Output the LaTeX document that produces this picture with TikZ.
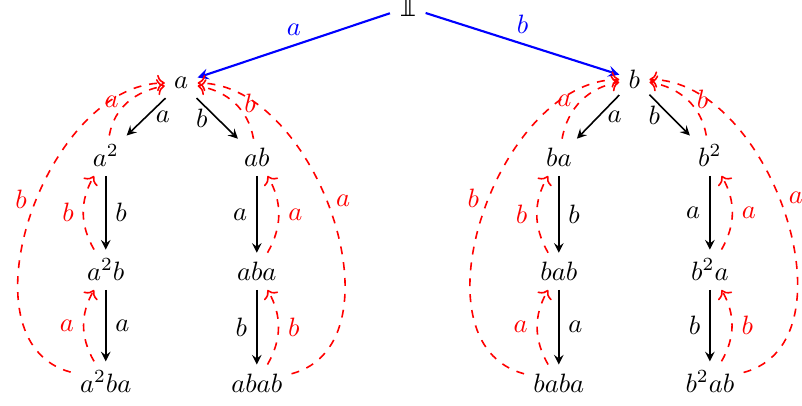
\documentclass[tikz,border=0pt]{standalone}
\usepackage{amsmath}
\usepackage{fontspec}
\newfontfamily\dejavu{DejaVu Sans}
\usetikzlibrary{arrows.meta, positioning}

\begin{document}
\begin{tikzpicture}[
    word/.style={anchor=base},
    fwd/.style={-stealth,semithick},
    first/.style={-stealth,thick,blue},
    back/.style={->,semithick,dashed,red}
  ]
    \useasboundingbox (-5.40,0.225) rectangle (5.22,-5.15);

    \node[word] (e) at (0,0) {\dejavu 𝟙};
    \node[word] (a) at (-3,-0.95) {$a$};
    \node[word] (b) at (3,-0.95) {$b$};

    \node[word] (aa) at (-4,-1.98) {$a^2$};
    \node[word] (ab) at (-2,-1.98) {$ab$};
    \node[word] (aab) at (-4,-3.49) {$a^2b$};
    \node[word] (aba) at (-2,-3.49) {$aba$};
    \node[word] (aaba) at (-4,-4.97) {$a^2ba$};
    \node[word] (abab) at (-2,-4.97) {$abab$};

    \node[word] (ba) at (2,-1.98) {$ba$};
    \node[word] (bb) at (4,-1.98) {$b^2$};
    \node[word] (bab) at (2,-3.49) {$bab$};
    \node[word] (bba) at (4,-3.49) {$b^2a$};
    \node[word] (baba) at (2,-4.97) {$baba$};
    \node[word] (bbab) at (4,-4.97) {$b^2ab$};

    \draw[first] (e) -- node[above] {$a$} (a);
    \draw[first] (e) -- node[above] {$b$} (b);

    % left branch
    \draw[fwd] (a) -- node[right] {$a$} (aa);
    \draw[fwd] (a) -- node[left] {$b$} (ab);
    \draw[fwd] (aa) -- node[right] {$b$} (aab);
    \draw[fwd] (ab) -- node[left] {$a$} (aba);
    \draw[fwd] (aab) -- node[right] {$a$} (aaba);
    \draw[fwd] (aba) -- node[left] {$b$} (abab);

    \draw[back] (aa) to[out=80,in=190] node[left] {$a$} (a);
    \draw[back] (ab) to[out=100,in=-10] node[right] {$b$} (a);
    \draw[back] (aaba) to[out=165,in=180] node[left,pos=.54] {$b$} (a);
    \draw[back] (abab) to[out=15,in=0] node[right,pos=.54] {$a$} (a);
    \draw[back] (aab) to[bend left=30] node[left] {$b$} (aa);
    \draw[back] (aaba) to[bend left=30] node[left] {$a$} (aab);
    \draw[back] (aba) to[bend right=30] node[right] {$a$} (ab);
    \draw[back] (abab) to[bend right=30] node[right] {$b$} (aba);

    % right branch
    \draw[fwd] (b) -- node[right] {$a$} (ba);
    \draw[fwd] (b) -- node[left] {$b$} (bb);
    \draw[fwd] (ba) -- node[right] {$b$} (bab);
    \draw[fwd] (bb) -- node[left] {$a$} (bba);
    \draw[fwd] (bab) -- node[right] {$a$} (baba);
    \draw[fwd] (bba) -- node[left] {$b$} (bbab);

    \draw[back] (ba) to[out=80,in=190] node[left] {$a$} (b);
    \draw[back] (bb) to[out=100,in=-10] node[right] {$b$} (b);
    \draw[back] (baba) to[out=165,in=180] node[left,pos=.54] {$b$} (b);
    \draw[back] (bbab) to[out=15,in=0] node[right,pos=.54] {$a$} (b);
    \draw[back] (bab) to[bend left=30] node[left] {$b$} (ba);
    \draw[back] (baba) to[bend left=30] node[left] {$a$} (bab);
    \draw[back] (bba) to[bend right=30] node[right] {$a$} (bb);
    \draw[back] (bbab) to[bend right=30] node[right] {$b$} (bba);
  \end{tikzpicture}
\end{document}
